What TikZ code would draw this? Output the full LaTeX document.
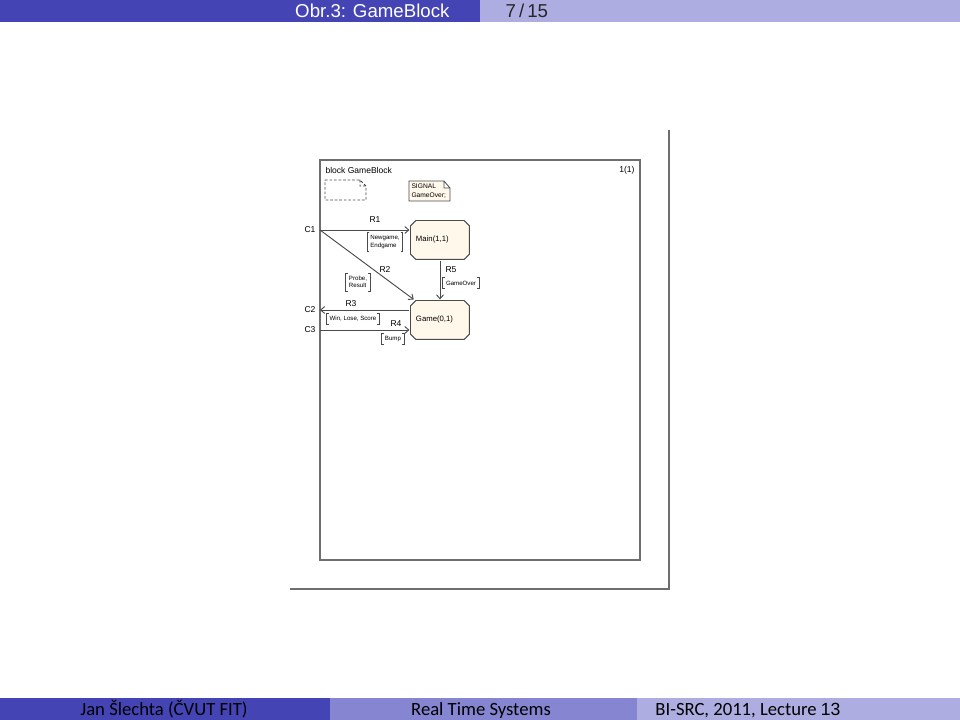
\documentclass[tikz,border=0pt]{standalone}
\usepackage{fontspec}
\setmainfont{Liberation Sans}
\newfontfamily\footfont{Carlito}
\usetikzlibrary{arrows.meta, positioning}
\definecolor{BarDark}{HTML}{4444B5}
\definecolor{BarMid}{HTML}{8585D1}
\definecolor{BarLight}{HTML}{ADADE1}
\definecolor{Frame}{HTML}{6E6E6E}
\definecolor{Wire}{HTML}{4A4A4A}
\definecolor{Cream}{HTML}{FFF8EB}

% signal list in square brackets
\newcommand{\sigbox}[3]{%
  \node[siglist] (#1) at #2 {#3};
  \draw[brk] ([xshift=0.8pt]#1.north west) -| (#1.south west) -- ++(0.8pt,0pt)
             ([xshift=-0.8pt]#1.north east) -| (#1.south east) -- ++(-0.8pt,0pt);}

\begin{document}
\begin{tikzpicture}[x=0.375pt, y=-0.375pt,
      proc/.style={rectangle, minimum width=22.5pt, minimum height=15pt, inner xsep=2.25pt,
                  text width=18pt, align=left, font=\fontsize{2.9}{3.5}\selectfont,
                  path picture={\filldraw[draw=Wire, fill=Cream, line width=0.35pt]
                    ([xshift=2.2pt, yshift=-0.2pt]path picture bounding box.north west)
                    -- ([xshift=-2.2pt, yshift=-0.2pt]path picture bounding box.north east)
                    -- ([xshift=-0.2pt, yshift=-2.2pt]path picture bounding box.north east)
                    -- ([xshift=-0.2pt, yshift=2.2pt]path picture bounding box.south east)
                    -- ([xshift=-2.2pt, yshift=0.2pt]path picture bounding box.south east)
                    -- ([xshift=2.2pt, yshift=0.2pt]path picture bounding box.south west)
                    -- ([xshift=0.2pt, yshift=2.2pt]path picture bounding box.south west)
                    -- ([xshift=0.2pt, yshift=-2.2pt]path picture bounding box.north west)
                    -- cycle;}},
      siglist/.style={inner xsep=1pt, inner ysep=0.9pt, align=left, font=\fontsize{2.3}{2.8}\selectfont},
      brk/.style={Wire, line width=0.3pt},
      tag/.style={inner sep=0pt, font=\fontsize{3.2}{4}\selectfont},
      ar/.style={-{Straight Barb[length=1.5pt, width=2.6pt]}, Wire, line width=0.35pt}]

    \useasboundingbox (0,0) rectangle (960,720);

    % head and foot bars
    \fill[BarDark] (0,0) rectangle (480,22);
    \fill[BarLight] (480,0) rectangle (960,22);
    \node[anchor=base east, inner sep=0pt, text=white, font=\fontsize{7}{8}\selectfont] (title) at (450,18) {Obr.3: GameBlock};
    \node[anchor=base west, inner sep=0pt, text=black!85, font=\fontsize{7}{8}\selectfont] (pageno) at (505,18) {7\,/\,15};

    \fill[BarDark] (0,698) rectangle (330,720);
    \fill[BarMid] (330,698) rectangle (637,720);
    \fill[BarLight] (637,698) rectangle (960,720);
    \node[anchor=base, inner sep=0pt, font=\footfont\fontsize{7}{8}\selectfont] (author) at (164,716) {Jan Šlechta (ČVUT FIT)};
    \node[anchor=base, inner sep=0pt, font=\footfont\fontsize{7}{8}\selectfont] (course) at (481,716) {Real Time Systems};
    \node[anchor=base, inner sep=0pt, font=\footfont\fontsize{7}{8}\selectfont] (lecture) at (748,716) {BI-SRC, 2011, Lecture {\rmfamily\fontsize{6.6}{8}\selectfont 13}};

    % page and diagram frame
    \draw[Frame, line width=0.45pt] (290,589) -- (669,589) -- (669,130);
    \draw[Frame, line width=0.4pt] (320,160) rectangle (640,560);
    \node[tag, anchor=west] (blk) at (325,170) {block GameBlock};
    \node[tag, anchor=east] (pg) at (635,170) {1(1)};

    % package reference and signal declaration
    \draw[Wire, line width=0.3pt, dash pattern=on 1pt off 0.7pt]
      (325,180) -- (360,180) -- (366,186) -- (366,200) -- (325,200) -- cycle
      (360,180) -- (360,186) -- (366,186);
    \filldraw[draw=Wire, fill=Cream, line width=0.3pt]
      (409,181) -- (444,181) -- (450,188) -- (450,201) -- (409,201) -- cycle
      (444,181) -- (444,188) -- (450,188);
    \node[anchor=west, align=left, inner sep=0pt, font=\fontsize{2.5}{3.2}\selectfont] (decl) at (411,191) {SIGNAL\\GameOver;};

    % processes
    \node[proc] (main) at (440,240) {Main(1,1)};
    \node[proc] (game) at (440,320) {Game(0,1)};

    % channel end points at the frame
    \coordinate (c1) at (320,230);
    \coordinate (c2) at (320,310);
    \coordinate (c3) at (320,330);
    \node[tag, anchor=east] (c1lbl) at (316,230) {C1};
    \node[tag, anchor=east] (c2lbl) at (316,310) {C2};
    \node[tag, anchor=east] (c3lbl) at (316,330) {C3};

    % routes
    \draw[ar] (c1) -- (c1 -| main.west);
    \draw[ar] (c1) -- ([xshift=1.6pt]game.north west);
    \draw[ar] (main.south) -- (game.north);
    \draw[ar] (game.west |- c2) -- (c2);
    \draw[ar] (c3) -- (c3 -| game.west);

    \node[tag] (r1) at (375,220) {R1};
    \node[tag] (r2) at (385,270) {R2};
    \node[tag] (r5) at (451,270) {R5};
    \node[tag] (r3) at (351,304) {R3};
    \node[tag] (r4) at (396,324) {R4};

    \sigbox{s1}{(385,242)}{Newgame,\\Endgame}
    \sigbox{s2}{(358,282)}{Probe,\\Result}
    \sigbox{s5}{(461,283)}{GameOver}
    \sigbox{s3}{(353,319)}{Win, Lose, Score}
    \sigbox{s4}{(393,339)}{Bump}
  \end{tikzpicture}
\end{document}
